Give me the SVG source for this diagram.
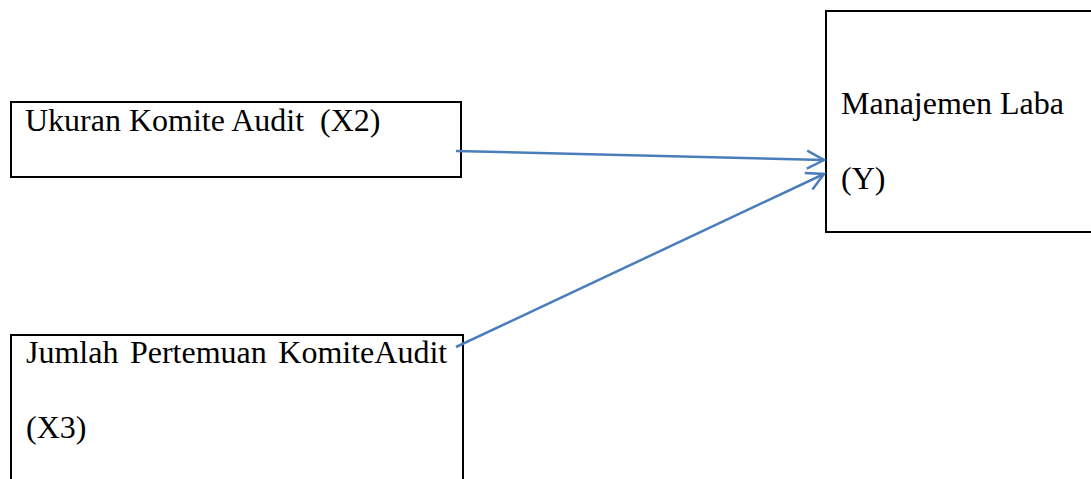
<svg xmlns="http://www.w3.org/2000/svg" width="1091" height="479" viewBox="0 0 1091 479">
  <style>
    .box { fill: #ffffff; stroke: #000000; stroke-width: 2; }
    .lbl { font-family: "Liberation Serif", "Times New Roman", serif; font-size: 32px; fill: #000000; white-space: pre; }
    .conn { stroke: #4A7EBB; stroke-width: 2.5; fill: none; marker-end: url(#arrow); }
  </style>
  <defs>
    <marker id="arrow" markerUnits="userSpaceOnUse" markerWidth="24" markerHeight="24" refX="19" refY="11" orient="auto">
      <path d="M2,2 L19,11 L2,20" fill="none" stroke="#4A7EBB" stroke-width="2.5"/>
    </marker>
  </defs>
  <rect width="1091" height="479" fill="#ffffff"/>
  <g id="node-x2">
    <rect class="box" x="11" y="102" width="450" height="75"/>
    <text class="lbl" x="25" y="131" xml:space="preserve">Ukuran Komite Audit  (X2)</text>
  </g>
  <g id="node-x3">
    <rect class="box" x="11" y="335" width="452" height="170"/>
    <text class="lbl" x="26" y="363" word-spacing="3.5">Jumlah Pertemuan KomiteAudit</text>
    <text class="lbl" x="26" y="438">(X3)</text>
  </g>
  <g id="node-y">
    <rect class="box" x="826" y="11" width="290" height="221"/>
    <text class="lbl" x="841" y="114">Manajemen Laba</text>
    <text class="lbl" x="841" y="189">(Y)</text>
  </g>
  <g id="connectors">
    <line class="conn" x1="456" y1="151" x2="824" y2="160"/>
    <line class="conn" x1="456" y1="347" x2="824" y2="174"/>
  </g>
</svg>
